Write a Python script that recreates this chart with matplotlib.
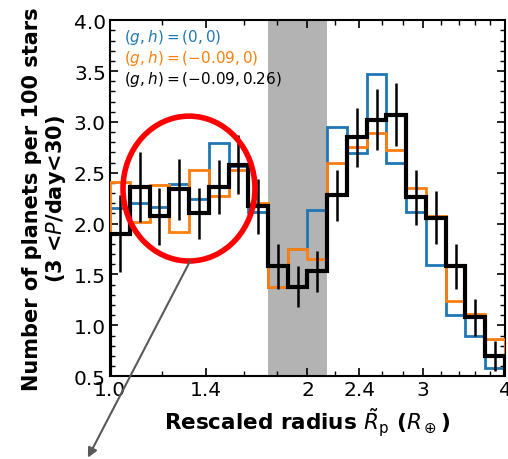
import numpy as np
import matplotlib
matplotlib.use("Agg")
import matplotlib.pyplot as plt
from matplotlib.patches import Ellipse
from matplotlib.ticker import FixedLocator, NullFormatter

# === データ ===
# ビン境界（対数等間隔, 1 - 4 R_earth）
bin_edges = [1.0, 1.072, 1.149, 1.231, 1.320, 1.414, 1.516, 1.625, 1.741, 1.866,
             2.0, 2.144, 2.297, 2.462, 2.639, 2.828, 3.031, 3.249, 3.482, 3.732, 4.0]

occ_blue = [2.15, 2.20, 2.16, 2.39, 2.24, 2.79, 2.57, 2.11, 1.38, 1.75,
            2.13, 2.95, 2.69, 3.47, 2.60, 2.11, 1.59, 1.10, 0.90, 0.58]
occ_orange = [2.41, 2.02, 2.38, 1.92, 2.53, 2.27, 2.53, 2.20, 1.38, 1.75,
              1.65, 2.60, 2.75, 2.89, 2.72, 2.35, 2.07, 1.24, 1.11, 0.87]
occ_black = [1.90, 2.36, 2.07, 2.34, 2.10, 2.36, 2.58, 2.17, 1.58, 1.38,
             1.53, 2.28, 2.85, 3.02, 3.07, 2.26, 2.06, 1.58, 1.08, 0.70]
err_black = [0.38, 0.34, 0.28, 0.30, 0.25, 0.27, 0.29, 0.27, 0.22, 0.20,
             0.20, 0.25, 0.29, 0.30, 0.31, 0.27, 0.26, 0.22, 0.18, 0.15]

gap_range = (1.741, 2.144)

labels = [r"$(g,h)=(0,0)$", r"$(g,h)=(-0.09,0)$", r"$(g,h)=(-0.09,0.26)$"]
colors = ["#1f77b4", "#ff7f0e", "black"]

xtick_vals = [1.0, 1.4, 2.0, 2.4, 3.0, 4.0]
xtick_labels = ["1.0", "1.4", "2", "2.4", "3", "4"]
xminor_vals = [1.2, 1.6, 1.8, 2.2, 2.6, 2.8, 3.2, 3.4, 3.6, 3.8]

# === プロット ===
fig = plt.figure(figsize=(5.08, 4.60), dpi=100)
ax = fig.add_axes([0.2165, 0.180, 0.7775, 0.774])

ax.axvspan(*gap_range, color="0.70", lw=0, zorder=0)

ax.stairs(occ_blue, bin_edges, color=colors[0], lw=2.0, zorder=2)
ax.stairs(occ_orange, bin_edges, color=colors[1], lw=2.0, zorder=3)
ax.stairs(occ_black, bin_edges, color=colors[2], lw=3.0, zorder=4)

centers = np.sqrt(np.array(bin_edges[:-1]) * np.array(bin_edges[1:]))
ax.errorbar(centers, occ_black, yerr=err_black, fmt="none", ecolor="black",
            elinewidth=1.8, capsize=0, zorder=5)

ax.set_xscale("log")
ax.set_xlim(1.0, 4.0)
ax.set_ylim(0.5, 4.0)
ax.xaxis.set_major_locator(FixedLocator(xtick_vals))
ax.set_xticklabels(xtick_labels)
ax.xaxis.set_minor_locator(FixedLocator(xminor_vals))
ax.xaxis.set_minor_formatter(NullFormatter())
ax.set_yticks(np.arange(0.5, 4.01, 0.5))
ax.set_yticks(np.arange(0.5, 4.01, 0.1), minor=True)

ax.tick_params(which="both", direction="in", top=True, right=True,
               labelsize=14.5, pad=3)
ax.tick_params(which="major", length=6, width=1.2)
ax.tick_params(which="minor", length=3.5, width=1.0)
for s in ax.spines.values():
    s.set_linewidth(1.5)

ax.set_xlabel(r"Rescaled radius $\tilde{R}_\mathrm{p}$ ($R_\oplus$)",
              fontsize=15.5, fontweight="bold", labelpad=4)
ax.set_ylabel("Number of planets per 100 stars\n(3 <$P$/day<30)",
              fontsize=15, fontweight="bold", labelpad=4, linespacing=1.1)

for i, (lab, c) in enumerate(zip(labels, colors)):
    ax.text(0.035, 0.955 - i * 0.06, lab, color=c, fontsize=11,
            transform=ax.transAxes, va="center", ha="left")

# 赤い楕円と矢印
ell = Ellipse((0.20, 0.527), 0.334, 0.407, transform=ax.transAxes,
              fill=False, ec="red", lw=4, zorder=6, clip_on=False)
ax.add_patch(ell)
ax.annotate("", xy=(0.173, 0.003), xycoords="figure fraction",
            xytext=(0.374, 0.430), textcoords="figure fraction",
            arrowprops=dict(arrowstyle="-|>", color="0.35", lw=1.5,
                            mutation_scale=14, shrinkA=0, shrinkB=0),
            zorder=7)

fig.savefig("out.png", dpi=100)
